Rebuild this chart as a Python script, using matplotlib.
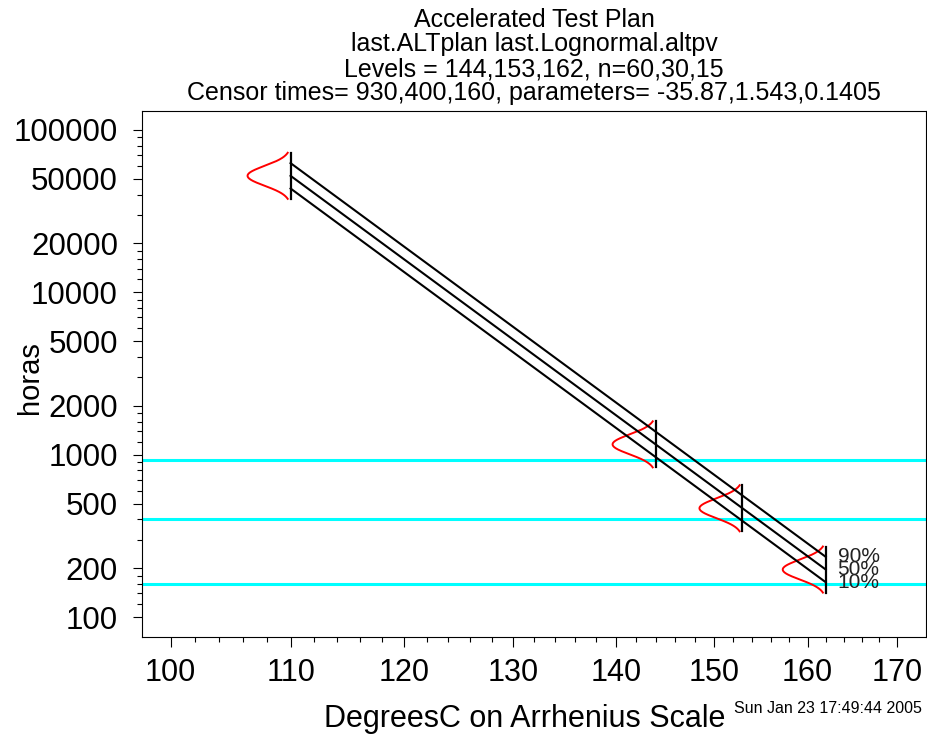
import numpy as np
import matplotlib
matplotlib.use("Agg")
import matplotlib.pyplot as plt
from matplotlib.ticker import FixedLocator, FixedFormatter, NullFormatter
from statistics import NormalDist

plt.rcParams['font.family'] = ['Liberation Sans', 'DejaVu Sans']

# Plan values, as printed in the chart title
title_lines = ["Accelerated Test Plan",
               "last.ALTplan last.Lognormal.altpv",
               "Levels = 144,153,162, n=60,30,15",
               "Censor times= 930,400,160, parameters= -35.87,1.543,0.1405"]
use_level = 110
test_levels = [144, 153, 162]
censor_times = [930, 400, 160]
beta0 = -35.87
beta1 = 1.543
sigma = 0.1405
quantile_probs = [0.1, 0.5, 0.9]
quantile_labels = ["10%", "50%", "90%"]
density_probs = [0.01, 0.99]   # range of the density curves

# Axis ticks
x_major = [100, 110, 120, 130, 140, 150, 160, 170]
x_minor = list(range(100, 171, 2))
y_major = [100, 200, 500, 1000, 2000, 5000, 10000, 20000, 50000, 100000]
y_major_labels = ["100", "200", "500", "1000", "2000", "5000",
                  "10000", "20000", "50000", "100000"]
y_minor_mult = [1.2, 1.4, 1.6, 1.8, 3, 4, 6, 7, 8, 9]
y_decades = [100, 1000, 10000]

timestamp = "Sun Jan 23 17:49:44 2005"

BOLTZ = 11604.5  # 1/k, K per eV


# Arrhenius scale: -1/(T + 273.15), increasing with temperature
def arrhenius(temp):
    return -1000.0 / (np.asarray(temp, dtype=float) + 273.15)


def arrhenius_inv(u):
    with np.errstate(divide='ignore'):
        return -1000.0 / np.asarray(u, dtype=float) - 273.15


def mu_at(temp):
    return beta0 + beta1 * BOLTZ / (temp + 273.15)


nd = NormalDist()

W, H = 927, 737
fig = plt.figure(figsize=(W / 100, H / 100), dpi=100)
ax = fig.add_axes([141.5 / W, 1 - 636.5 / H, (926 - 141.5) / W, (636.5 - 110.5) / H])

ax.set_xscale('function', functions=(arrhenius, arrhenius_inv))
ax.set_yscale('log')

# S style limits: 4% padding on each side
u_lo, u_hi = arrhenius(x_major[0]), arrhenius(x_major[-1])
pad = 0.04 * (u_hi - u_lo)
ax.set_xlim(arrhenius_inv(u_lo - pad), arrhenius_inv(u_hi + pad))
ax.set_ylim(10 ** (2 - 0.12), 10 ** (5 + 0.12))

# Censor times
for c in censor_times:
    ax.axhline(c, color='#00FFFF', lw=2.2, zorder=1)

# Quantile lines from use level to highest test level
all_levels = [use_level] + test_levels
for p in quantile_probs:
    z = nd.inv_cdf(p)
    xs = np.array([use_level, test_levels[-1]], dtype=float)
    ys = np.exp(mu_at(xs) + z * sigma)
    ax.plot(xs, ys, color='black', lw=1.5, zorder=3)

# Density at each level, drawn to the left of a vertical bar
dens_width = 43.0 / 726.0 * (u_hi - u_lo)
z_lo, z_hi = nd.inv_cdf(density_probs[0]), nd.inv_cdf(density_probs[1])
zz = np.linspace(z_lo, z_hi, 200)
for lev in all_levels:
    mu = mu_at(lev)
    ax.plot([lev, lev], np.exp(mu + np.array([z_lo, z_hi]) * sigma),
            color='black', lw=1.6, zorder=3)
    dx = dens_width * np.exp(-zz ** 2 / 2)
    ax.plot(arrhenius_inv(arrhenius(lev) - dx), np.exp(mu + zz * sigma),
            color='red', lw=1.4, zorder=2)

# Quantile labels at the last level (they overlap in the original too)
for p, lab in zip(quantile_probs, quantile_labels):
    yv = np.exp(mu_at(test_levels[-1]) + nd.inv_cdf(p) * sigma)
    ax.annotate(lab, (test_levels[-1], yv), xytext=(8.5, 0),
                textcoords='offset points', ha='left', va='center',
                fontsize=15, color='#222222')

# Ticks
ax.xaxis.set_major_locator(FixedLocator(x_major))
ax.xaxis.set_major_formatter(FixedFormatter([str(v) for v in x_major]))
ax.xaxis.set_minor_locator(FixedLocator(x_minor))
ax.xaxis.set_minor_formatter(NullFormatter())
ax.yaxis.set_major_locator(FixedLocator(y_major))
ax.yaxis.set_major_formatter(FixedFormatter(y_major_labels))
y_minor = [m * d for d in y_decades for m in y_minor_mult]
ax.yaxis.set_minor_locator(FixedLocator(y_minor))
ax.yaxis.set_minor_formatter(NullFormatter())

ax.tick_params(axis='x', which='major', length=7.2, width=0.8, labelsize=22, pad=8)
ax.tick_params(axis='x', which='minor', length=3.6, width=0.8)
ax.tick_params(axis='y', which='major', length=6.5, width=0.8, labelsize=22.5, pad=10.5)
ax.tick_params(axis='y', which='minor', length=3.6, width=0.8)
for s in ax.spines.values():
    s.set_linewidth(0.8)

# Titles and labels
baselines = [27, 51, 76, 100]
for line, yb in zip(title_lines, baselines):
    fig.text(534 / W, 1 - yb / H, line, ha='center', va='baseline', fontsize=18)

fig.text(30 / W, 1 - 378 / H, "horas", rotation=90, ha='center', va='center', fontsize=21)
fig.text(525 / W, 1 - 727 / H, "DegreesC on Arrhenius Scale", ha='center',
         va='baseline', fontsize=22)
fig.text(922 / W, 1 - 713 / H, timestamp, ha='right', va='baseline', fontsize=11.5)

fig.savefig("out.png", dpi=100)
